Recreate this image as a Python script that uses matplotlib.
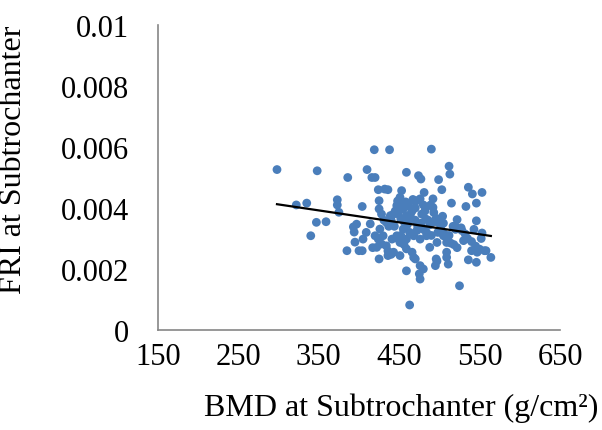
import numpy as np
import matplotlib
matplotlib.use("Agg")
import matplotlib.pyplot as plt

# BMD at Subtrochanter (g/cm²)
bmd = [298, 348, 322, 335, 340, 347, 359, 373, 373, 375, 386, 385, 393, 394, 395, 397,
       404, 400, 404, 405, 409, 414, 410, 416, 420, 419, 438, 424, 432, 436, 425, 425,
       426, 420, 424, 430, 422, 428, 434, 441, 447, 451, 459, 468, 459, 466, 451, 443,
       436, 425, 459, 470, 453, 459, 474, 451, 468, 472, 447, 455, 459, 449, 439, 434,
       490, 477, 499, 512, 513, 503, 481, 492, 483, 492, 515, 536, 541, 553, 533, 546,
       546, 483, 496, 504, 522, 517, 528, 530, 553, 540, 547, 558, 564, 536, 546, 509,
       509, 509, 496, 495, 511, 468, 476, 480, 475, 476, 525, 463, 488, 497, 476, 484,
       505, 501, 472, 463, 455,
       445, 448, 452, 456, 460, 464, 467, 470, 473, 477, 480, 484, 488, 490, 494, 498,
       502, 506, 510, 514, 518, 522, 527, 532, 540, 545, 550, 556, 440, 444, 448, 452,
       456, 462, 466, 470, 478, 482, 486, 443, 437, 431, 428, 452, 458, 462, 476, 480,
       489, 493, 500, 505, 512, 520, 497, 520, 535, 543, 552, 417, 436, 440]

# FRI at Subtrochanter (x 1e-3)
fri_e3 = [5.26, 5.22, 4.10, 4.16, 3.09, 3.53, 3.55, 4.27, 4.10, 3.86, 5.00, 2.60, 3.38, 3.21, 2.88, 3.47,
          4.05, 2.60, 2.60, 2.98, 3.20, 3.48, 5.26, 5.00, 5.00, 5.91, 5.91, 4.60, 4.62, 4.60, 4.24, 3.97,
          3.31, 3.09, 2.98, 3.09, 2.71, 2.82, 2.76, 2.98, 3.09, 2.87, 2.98, 3.09, 2.66, 2.55, 2.44, 2.55,
          2.44, 2.33, 1.94, 2.33, 4.57, 5.17, 5.06, 4.35, 4.24, 4.24, 4.08, 3.97, 3.75, 3.80, 3.75, 3.53,
          5.93, 4.95, 4.93, 5.37, 5.11, 4.60, 4.51, 4.30, 4.02, 4.02, 4.16, 4.68, 4.46, 4.51, 4.05, 4.16,
          3.58, 3.64, 3.66, 3.73, 3.62, 3.40, 3.26, 2.93, 3.18, 2.60, 2.55, 2.60, 2.38, 2.30, 2.22, 2.87,
          2.55, 2.38, 2.33, 2.11, 2.16, 2.38, 2.11, 2.00, 1.84, 1.67, 1.45, 0.82, 2.71, 2.87, 2.98, 3.09,
          3.09, 3.31, 3.26, 3.20, 3.31,
          3.90, 4.23, 3.65, 3.55, 3.45, 3.79, 4.28, 3.60, 3.40, 3.50, 3.30, 3.20, 3.45, 3.10, 3.55, 3.20,
          3.30, 3.15, 3.00, 2.85, 2.80, 2.70, 3.35, 3.15, 2.90, 2.75, 2.65, 2.60, 3.60, 3.40, 3.00, 3.10,
          2.80, 3.60, 3.90, 4.00, 3.80, 3.90, 3.60, 3.80, 3.40, 3.60, 3.80, 4.10, 4.20, 4.05, 4.30, 4.10,
          4.10, 3.85, 3.50, 3.50, 3.10, 3.30, 2.26, 3.40, 3.00, 3.30, 3.00, 2.70, 2.59, 2.48]

x_ticks = [150, 250, 350, 450, 550, 650]
y_ticks = [0, 0.002, 0.004, 0.006, 0.008, 0.01]
y_tick_labels = ["0", "0.002", "0.004", "0.006", "0.008", "0.01"]

x = np.array(bmd, dtype=float)
y = np.array(fri_e3, dtype=float) * 1e-3

plt.rcParams['font.family'] = ['Liberation Serif', 'DejaVu Serif']

fig = plt.figure(figsize=(6.02, 4.31), dpi=100)
ax = fig.add_axes([158/602, 1-331/431, (560-158)/602, (331-26)/431])

ax.scatter(x, y, s=40, color='#4A7EBB', edgecolors='none', zorder=3)

coef = np.polyfit(x, y, 1)
xl = np.array([x.min(), x.max()])
ax.plot(xl, np.polyval(coef, xl), color='black', lw=1.6, zorder=4)

ax.set_xlim(150, 650)
ax.set_ylim(0, 0.01)
ax.set_xticks(x_ticks)
ax.set_xticklabels([str(t) for t in x_ticks])
ax.set_yticks(y_ticks)
ax.set_yticklabels(y_tick_labels)
ax.tick_params(axis='both', length=0, labelsize=22)
ax.tick_params(axis='y', pad=21)
ax.tick_params(axis='x', pad=9)
for s in ['top', 'right']:
    ax.spines[s].set_visible(False)
for s in ['left', 'bottom']:
    ax.spines[s].set_color('#868686')
    ax.spines[s].set_linewidth(1.2)

ax.set_xlabel("BMD at Subtrochanter (g/cm²)", fontsize=23)
ax.set_ylabel("FRI at Subtrochanter", fontsize=23)
ax.xaxis.set_label_coords((401-158)/402, -0.205)
ax.yaxis.set_label_coords((28-158)/402, (331-160)/305)

fig.savefig("out.png", dpi=100)
